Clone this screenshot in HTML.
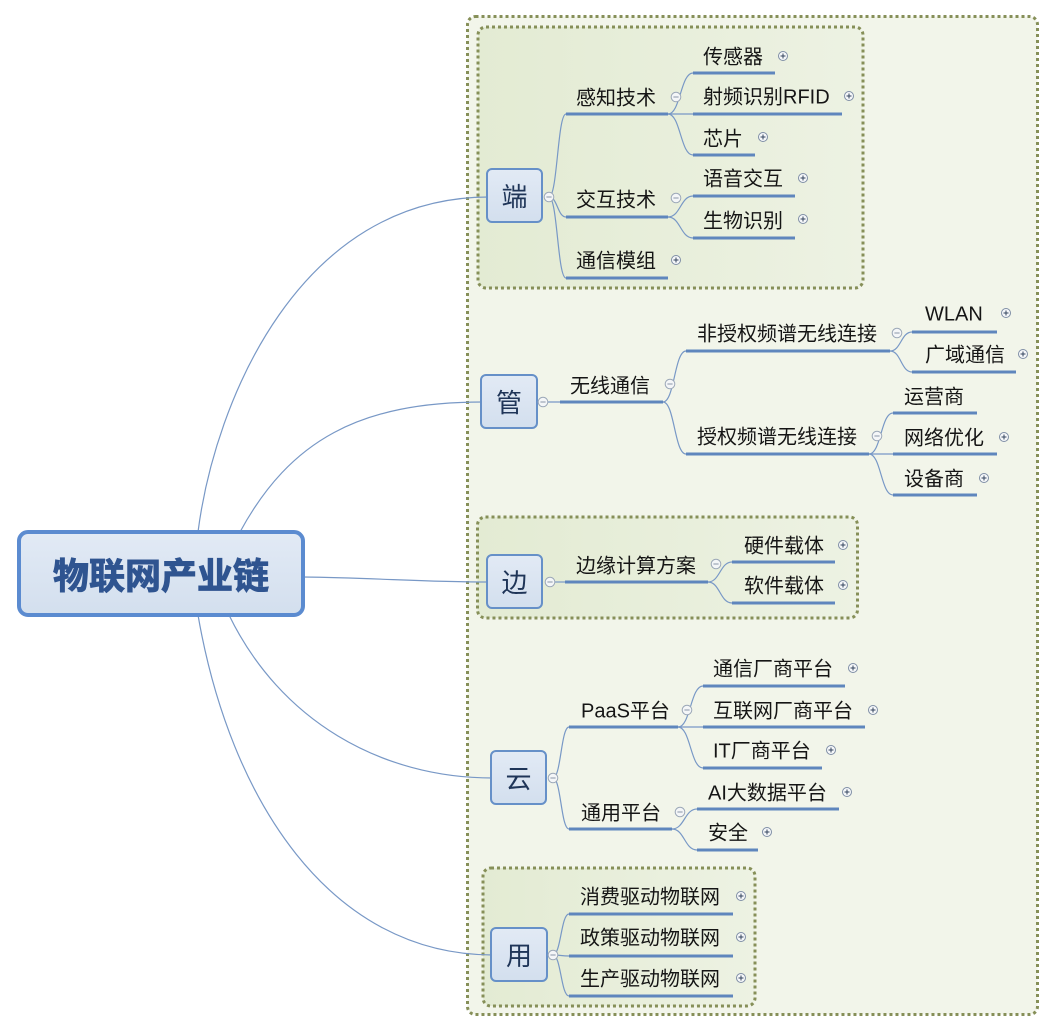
<!DOCTYPE html>
<html><head><meta charset="utf-8"><style>
html,body{margin:0;padding:0;background:#fff;}
svg{display:block;}
text{font-family:"Liberation Sans","Noto Sans CJK SC","WenQuanYi Zen Hei",sans-serif;}
</style></head><body>
<svg width="1056" height="1033" viewBox="0 0 1056 1033" xmlns="http://www.w3.org/2000/svg">
<defs>
<linearGradient id="ig" x1="0" y1="0" x2="1" y2="0">
<stop offset="0" stop-color="#e3ebd3"/><stop offset="1" stop-color="#edf2e3"/>
</linearGradient>
<linearGradient id="bg" x1="0" y1="0" x2="0" y2="1">
<stop offset="0" stop-color="#e2eaf5"/><stop offset="1" stop-color="#d3dfee"/>
</linearGradient>
<g id="mi"><circle r="4.8" fill="#f4f6f8" stroke="#9ca8b8" stroke-width="1"/><line x1="-2.6" y1="0" x2="2.6" y2="0" stroke="#8a96a8" stroke-width="1"/></g>
<g id="pl"><circle r="4.5" fill="#f6f8fa" stroke="#7f8ea6" stroke-width="1"/><line x1="-2.5" y1="0" x2="2.5" y2="0" stroke="#34445e" stroke-width="1"/><line x1="0" y1="-2.5" x2="0" y2="2.5" stroke="#34445e" stroke-width="1"/></g>
</defs>
<rect width="1056" height="1033" fill="#fff"/>
<rect x="467.5" y="16.5" width="570" height="998" rx="8" fill="#f2f5ea" stroke="#868f58" stroke-width="3" stroke-dasharray="3 3"/>
<rect x="478" y="27" width="385" height="261" rx="8" fill="url(#ig)" stroke="#868f58" stroke-width="3" stroke-dasharray="3 3"/>
<rect x="477.5" y="517" width="380" height="101" rx="8" fill="url(#ig)" stroke="#868f58" stroke-width="3" stroke-dasharray="3 3"/>
<rect x="483" y="868" width="272" height="138" rx="8" fill="url(#ig)" stroke="#868f58" stroke-width="3" stroke-dasharray="3 3"/>

<g fill="none" stroke="#7898c6" stroke-width="1.2">
<path d="M198,532 C215,400 300,197 489,197"/>
<path d="M240,532 C290,440 360,402 483,402"/>
<path d="M303,577 C380,578 420,582 489,582"/>
<path d="M229,615 C280,720 380,778 493,778"/>
<path d="M198,615 C230,800 330,955 493,955"/>
</g>

<rect x="19" y="532" width="284" height="83" rx="9" fill="url(#bg)" stroke="#5b8bd0" stroke-width="4"/>
<text x="161" y="576" font-size="36" font-weight="bold" fill="#2f5490" stroke="#2f5490" stroke-width="1" text-anchor="middle" dominant-baseline="central">物联网产业链</text>

<g stroke="#6690c8" stroke-width="2" fill="url(#bg)">
<rect x="487" y="169" width="55" height="53" rx="5"/>
<rect x="481" y="375" width="56" height="53" rx="5"/>
<rect x="487" y="555" width="55" height="53" rx="5"/>
<rect x="491" y="751" width="55" height="53" rx="5"/>
<rect x="491" y="928" width="56" height="53" rx="5"/>
</g>
<g font-size="26" fill="#1f3558" text-anchor="middle" dominant-baseline="central">
<text x="514.5" y="197">端</text>
<text x="509" y="403">管</text>
<text x="514.5" y="583">边</text>
<text x="518.5" y="779">云</text>
<text x="519" y="956">用</text>
</g>

<g fill="none" stroke="#7898c6" stroke-width="1.2">
<path d="M549,197 C557.5,197 557.5,114 566,114"/>
<path d="M549,197 C557.5,197 557.5,217 566,217"/>
<path d="M549,197 C557.5,197 557.5,278 566,278"/>
<path d="M668,114 C680.5,114 680.5,73 693,73"/>
<path d="M668,114 L693,114"/>
<path d="M668,114 C680.5,114 680.5,155 693,155"/>
<path d="M668,217 C680.5,217 680.5,196 693,196"/>
<path d="M668,217 C680.5,217 680.5,238 693,238"/>
<path d="M543,402 L560,402"/>
<path d="M663,402 C674.5,402 674.5,351 686,351"/>
<path d="M663,402 C674.5,402 674.5,454 686,454"/>
<path d="M890,351 C901,351 901,332 912,332"/>
<path d="M890,351 C901,351 901,372 912,372"/>
<path d="M869,454 C881,454 881,413 893,413"/>
<path d="M869,454 L893,454"/>
<path d="M869,454 C881,454 881,495 893,495"/>
<path d="M550,582 L565,582"/>
<path d="M708,582 C720,582 720,562 732,562"/>
<path d="M708,582 C720,582 720,603 732,603"/>
<path d="M553,778 C561,778 561,727 569,727"/>
<path d="M553,778 C561,778 561,829 569,829"/>
<path d="M678,727 C690.5,727 690.5,686 703,686"/>
<path d="M678,727 L703,727"/>
<path d="M678,727 C690.5,727 690.5,768 703,768"/>
<path d="M672,829 C684.5,829 684.5,809 697,809"/>
<path d="M672,829 C684.5,829 684.5,850 697,850"/>
<path d="M553,955 C561,955 561,914 569,914"/>
<path d="M553,955 C561,955 561,956 569,956"/>
<path d="M553,955 C561,955 561,996 569,996"/>
</g>

<g stroke="#5f86bd" stroke-width="3" fill="none">
<line x1="566" y1="114" x2="668" y2="114"/>
<line x1="566" y1="217" x2="668" y2="217"/>
<line x1="566" y1="278" x2="668" y2="278"/>
<line x1="693" y1="73" x2="775" y2="73"/>
<line x1="693" y1="114" x2="842" y2="114"/>
<line x1="693" y1="155" x2="755" y2="155"/>
<line x1="693" y1="196" x2="795" y2="196"/>
<line x1="693" y1="238" x2="795" y2="238"/>
<line x1="560" y1="402" x2="663" y2="402"/>
<line x1="686" y1="351" x2="890" y2="351"/>
<line x1="686" y1="454" x2="869" y2="454"/>
<line x1="912" y1="332" x2="997" y2="332"/>
<line x1="912" y1="372" x2="1016" y2="372"/>
<line x1="893" y1="413" x2="977" y2="413"/>
<line x1="893" y1="454" x2="997" y2="454"/>
<line x1="893" y1="495" x2="977" y2="495"/>
<line x1="565" y1="582" x2="708" y2="582"/>
<line x1="732" y1="562" x2="835" y2="562"/>
<line x1="732" y1="603" x2="835" y2="603"/>
<line x1="569" y1="727" x2="678" y2="727"/>
<line x1="569" y1="829" x2="672" y2="829"/>
<line x1="703" y1="686" x2="845" y2="686"/>
<line x1="703" y1="727" x2="865" y2="727"/>
<line x1="703" y1="768" x2="822" y2="768"/>
<line x1="697" y1="809" x2="839" y2="809"/>
<line x1="697" y1="850" x2="758" y2="850"/>
<line x1="569" y1="914" x2="733" y2="914"/>
<line x1="569" y1="956" x2="733" y2="956"/>
<line x1="569" y1="996" x2="733" y2="996"/>
</g>

<g font-size="20" fill="#151515" dominant-baseline="central">
<text x="576" y="98.5">感知技术</text>
<text x="576" y="200.5">交互技术</text>
<text x="576" y="261.5">通信模组</text>
<text x="703" y="57.5">传感器</text>
<text x="703" y="97.5">射频识别RFID</text>
<text x="703" y="139.5">芯片</text>
<text x="703" y="179.5">语音交互</text>
<text x="703" y="221.5">生物识别</text>
<text x="570" y="386.5">无线通信</text>
<text x="697" y="334.5">非授权频谱无线连接</text>
<text x="697" y="437.5">授权频谱无线连接</text>
<text x="925" y="314.5">WLAN</text>
<text x="925" y="355.5">广域通信</text>
<text x="904" y="397.5">运营商</text>
<text x="904" y="438.5">网络优化</text>
<text x="904" y="479.5">设备商</text>
<text x="576" y="566.5">边缘计算方案</text>
<text x="744" y="546.5">硬件载体</text>
<text x="744" y="586.5">软件载体</text>
<text x="581" y="711.5">PaaS平台</text>
<text x="581" y="813.5">通用平台</text>
<text x="713" y="669.5">通信厂商平台</text>
<text x="713" y="711.5">互联网厂商平台</text>
<text x="713" y="751.5">IT厂商平台</text>
<text x="708" y="793.5">AI大数据平台</text>
<text x="708" y="833.5">安全</text>
<text x="580" y="897.5">消费驱动物联网</text>
<text x="580" y="938.5">政策驱动物联网</text>
<text x="580" y="979.5">生产驱动物联网</text>
</g>

<use href="#mi" x="549" y="197"/>
<use href="#mi" x="676" y="97"/>
<use href="#mi" x="676" y="198"/>
<use href="#mi" x="543" y="402"/>
<use href="#mi" x="670" y="384"/>
<use href="#mi" x="897" y="333"/>
<use href="#mi" x="877" y="436"/>
<use href="#mi" x="550" y="582"/>
<use href="#mi" x="716" y="564"/>
<use href="#mi" x="553" y="778"/>
<use href="#mi" x="687" y="710"/>
<use href="#mi" x="680" y="812"/>
<use href="#mi" x="553" y="955"/>
<use href="#pl" x="676" y="260"/>
<use href="#pl" x="783" y="56"/>
<use href="#pl" x="849" y="96"/>
<use href="#pl" x="763" y="137"/>
<use href="#pl" x="803" y="178"/>
<use href="#pl" x="803" y="219"/>
<use href="#pl" x="1006" y="313"/>
<use href="#pl" x="1023" y="354"/>
<use href="#pl" x="1004" y="437"/>
<use href="#pl" x="984" y="478"/>
<use href="#pl" x="843" y="545"/>
<use href="#pl" x="843" y="585"/>
<use href="#pl" x="853" y="668"/>
<use href="#pl" x="873" y="710"/>
<use href="#pl" x="831" y="750"/>
<use href="#pl" x="847" y="792"/>
<use href="#pl" x="767" y="832"/>
<use href="#pl" x="741" y="896"/>
<use href="#pl" x="741" y="937"/>
<use href="#pl" x="741" y="978"/>
</svg>
</body></html>
